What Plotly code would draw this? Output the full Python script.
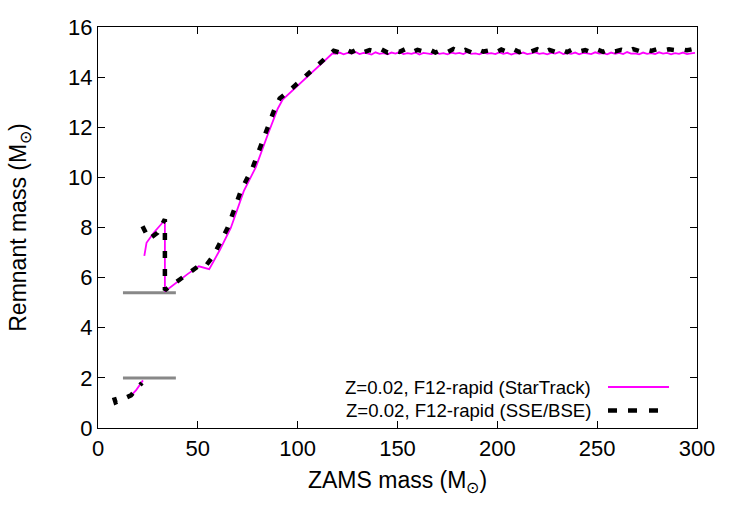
import plotly.graph_objects as go

# ---- data ----
st_mass_low = [16, 19, 22.5]
st_rem_low = [1.25, 1.5, 1.9]
st_mass_main = [23.2, 24.3, 28, 33.5, 33.5, 40, 45, 50.5, 55.7, 61, 66.5, 73, 79, 85, 90, 92.5, 105, 117.5]
st_rem_main = [6.87, 7.39, 7.8, 8.3, 5.45, 5.85, 6.15, 6.45, 6.34, 7.1, 7.98, 9.45, 10.4, 11.7, 12.74, 13.1, 14.02, 14.95]
st_mass_flat = list(range(119, 300, 2))
st_rem_flat = [14.93, 14.98, 14.91, 14.97, 14.94, 15.0, 14.92, 14.97, 14.95, 14.9,
               14.99, 14.93, 14.96, 14.91, 14.98, 14.94, 15.0, 14.92, 14.96, 14.93,
               14.98, 14.9, 14.97, 14.95, 14.92, 14.99, 14.93, 14.96, 14.91, 14.98,
               14.94, 14.97, 14.92, 15.0, 14.93, 14.95, 14.91, 14.98, 14.94, 14.96,
               14.92, 14.99, 14.93, 14.97, 14.9, 14.96, 14.94, 14.98, 14.92, 14.95,
               14.99, 14.93, 14.96, 14.91, 14.97, 14.94, 15.0, 14.92, 14.96, 14.93,
               14.98, 14.91, 14.97, 14.95, 14.92, 14.99, 14.94, 14.96, 14.91, 14.98,
               14.93, 14.97, 14.92, 15.0, 14.94, 14.95, 14.91, 14.98, 14.93, 14.96,
               14.92, 14.99, 14.94, 14.97, 14.91, 14.96, 14.93, 14.98, 14.92, 14.95,
               14.97]

sb_mass_low = [8, 8.8, 16.5, 22]
sb_rem_low = [1.22, 1.02, 1.3, 1.8]
sb_mass_main = [22.3, 24, 25.5, 29.8, 33.5, 33.5, 51, 54, 58, 65, 71.5, 77.5, 83.5, 88.5, 91, 95, 102, 110, 117]
sb_rem_main = [8.05, 7.72, 7.54, 7.79, 8.33, 5.5, 6.5, 6.47, 6.9, 8.0, 9.45, 10.4, 11.7, 12.74, 13.15, 13.4, 13.9, 14.5, 15.0]
sb_mass_flat = list(range(118, 300, 3))
sb_rem_flat = [15.05, 14.98, 15.1, 15.0, 15.12, 14.99, 15.08, 15.02, 15.11, 14.98,
               15.07, 15.01, 15.12, 14.99, 15.09, 15.02, 15.1, 14.98, 15.08, 15.0,
               15.12, 15.01, 15.09, 14.99, 15.11, 15.02, 15.07, 14.98, 15.1, 15.01,
               15.12, 15.0, 15.08, 15.02, 15.11, 14.99, 15.09, 15.01, 15.1, 15.0,
               15.12, 15.02, 15.08, 14.99, 15.1, 15.01, 15.11, 15.03, 15.09, 15.02,
               15.12, 15.04, 15.1, 15.05, 15.12, 15.06, 15.11, 15.08, 15.12, 15.07,
               15.12]

thr_mass = [12.5, 39]
thr_levels = [2.0, 5.4]

labels = ["Z=0.02, F12-rapid (StarTrack)", "Z=0.02, F12-rapid (SSE/BSE)"]

FONT = "Liberation Sans, Arial, sans-serif"
DASH = "7px,11px"

fig = go.Figure()
for lv in thr_levels:
    fig.add_trace(go.Scatter(x=thr_mass, y=[lv, lv], mode="lines",
                             line=dict(color="#888888", width=3), showlegend=False, hoverinfo="skip"))

st_x = st_mass_low + [None] + st_mass_main + st_mass_flat
st_y = st_rem_low + [None] + st_rem_main + st_rem_flat
sb_x = sb_mass_low + [None] + sb_mass_main + sb_mass_flat
sb_y = sb_rem_low + [None] + sb_rem_main + sb_rem_flat

fig.add_trace(go.Scatter(x=st_x, y=st_y, mode="lines", name=labels[0],
                         line=dict(color="#ff00ff", width=1.8), showlegend=False))
fig.add_trace(go.Scatter(x=sb_x, y=sb_y, mode="lines", name=labels[1],
                         line=dict(color="black", width=4.5, dash=DASH), showlegend=False))

L, R, T, B = 98, 53, 27, 97
PW, PH = 750 - L - R, 525 - T - B

def px(xp):
    return (xp - L) / PW

def py(yp):
    return (525 - B - yp) / PH

# legend (gnuplot style: text right-aligned, sample on the right)
fig.add_shape(type="line", xref="paper", yref="paper", x0=px(608), x1=px(669), y0=py(387), y1=py(387),
              line=dict(color="#ff00ff", width=1.8))
for a, b in [(608, 617), (628, 637), (649, 658)]:
    fig.add_shape(type="line", xref="paper", yref="paper", x0=px(a), x1=px(b), y0=py(410.5), y1=py(410.5),
                  line=dict(color="black", width=4.5))
for lab, yp in zip(labels, [387, 410.5]):
    fig.add_annotation(text=lab, xref="paper", yref="paper", x=px(593), y=py(yp),
                       xanchor="right", yanchor="middle", showarrow=False,
                       font=dict(family=FONT, size=18.6, color="black"))

axis_common = dict(showline=True, linecolor="black", linewidth=1.2, mirror="allticks",
                   ticks="inside", ticklen=7, tickcolor="black", tickwidth=1,
                   showgrid=False, zeroline=False,
                   tickfont=dict(family=FONT, size=22, color="black"))

fig.update_xaxes(range=[0, 300], dtick=50, tick0=0,
                 title=dict(text="ZAMS mass (M<sub>⊙</sub>)", font=dict(family=FONT, size=23, color="black"), standoff=12),
                 **axis_common)
fig.update_yaxes(range=[0, 16], dtick=2, tick0=0,
                 title=dict(text="Remnant mass (M<sub>⊙</sub>)", font=dict(family=FONT, size=23, color="black"), standoff=34),
                 **axis_common)

fig.update_layout(width=750, height=525, margin=dict(l=L, r=R, t=T, b=B, autoexpand=False),
                  plot_bgcolor="white", paper_bgcolor="white", showlegend=False,
                  font=dict(family=FONT))

fig.write_html("out.html")
